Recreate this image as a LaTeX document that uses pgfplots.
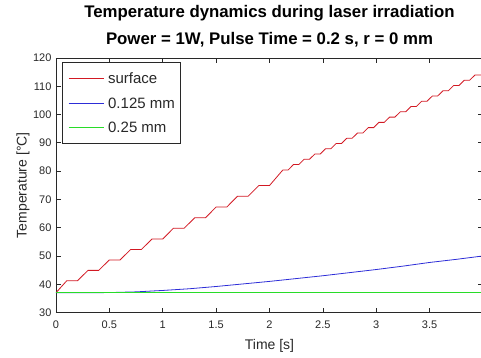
\documentclass[border=0pt]{standalone}
\usepackage{pgfplots}
\pgfplotsset{compat=1.18}
\usepackage{fontspec}
\setmainfont{Liberation Sans}
\definecolor{mred}{RGB}{210,25,35}
\definecolor{mblue}{RGB}{45,45,215}
\definecolor{mgreen}{RGB}{40,220,40}
\definecolor{axc}{RGB}{40,40,40}
\begin{document}
\begin{tikzpicture}
\useasboundingbox (-56pt,-44.5pt) rectangle (425pt,312.5pt);
\begin{axis}[
  scale only axis,
  width=427pt, height=254.5pt,
  xmin=0, xmax=4, ymin=30, ymax=120,
  xtick={0,0.5,1,1.5,2,2.5,3,3.5,4},
  xticklabels={0,0.5,1,1.5,2,2.5,3,3.5,{}},
  ytick={30,40,50,60,70,80,90,100,110,120},
  tick align=inside,
  major tick length=5pt,
  axis line style={axc, line width=0.7pt},
  every tick/.style={axc, line width=0.7pt},
  /pgf/number format/assume math mode=true,
  ticklabel style={font=\fontsize{11}{11}\selectfont, text=axc},
  xticklabel style={yshift=-5pt},
  yticklabel style={xshift=-1pt},
  xlabel={Time [s]},
  ylabel={Temperature [°C]},
  label style={font=\fontsize{14}{14}\selectfont, text=axc},
  xlabel style={at={(axis description cs:0.5,-0.1473)}, anchor=base},
  ylabel style={at={(axis description cs:-0.0686,0.5)}, anchor=base},
  title={Temperature dynamics during laser irradiation\\Power = 1W, Pulse Time = 0.2 s, r = 0 mm},
  title style={font=\bfseries\fontsize{16.8}{26.7}\selectfont, align=center, anchor=south, inner sep=0pt, at={(axis description cs:0.5,1)}, yshift=5pt},
  legend style={at={(axis description cs:0,1)}, anchor=north west, xshift=6pt, yshift=-4pt,
    font=\fontsize{15}{15}\selectfont, draw=axc, line width=0.7pt,
    inner xsep=6pt, inner ysep=10.8pt, row sep=13.8pt, column sep=4pt,
    nodes={inner sep=0pt, text height=10.7pt, text depth=0pt, text=axc},
    cells={anchor=west}},
  legend image code/.code={\draw[#1] (0pt,0pt) -- (35pt,0pt);},
]
\addplot[mred, line width=0.8pt] coordinates {
(0,37) (0.1,41.2) (0.2,41.2) (0.3,44.9) (0.4,44.9) (0.5,48.6) (0.6,48.6)
(0.7,52.3) (0.8,52.3) (0.9,56.0) (1.0,56.0) (1.1,59.8) (1.2,59.8)
(1.3,63.5) (1.4,63.5) (1.5,67.3) (1.6,67.3) (1.7,71.1) (1.8,71.1)
(1.9,74.9) (2.0,74.9)
(2.125,80.4) (2.175,80.4) (2.225,82.35) (2.275,82.35) (2.325,84.2) (2.375,84.2)
(2.425,86.06) (2.475,86.06) (2.525,87.93) (2.575,87.93) (2.625,89.79) (2.675,89.79)
(2.725,91.65) (2.775,91.65) (2.825,93.51) (2.875,93.51) (2.925,95.38) (2.975,95.38)
(3.025,97.24) (3.075,97.24) (3.125,99.1) (3.175,99.1) (3.225,100.96) (3.275,100.96)
(3.325,102.83) (3.375,102.83) (3.425,104.69) (3.475,104.69) (3.525,106.55) (3.575,106.55)
(3.625,108.41) (3.675,108.41) (3.725,110.28) (3.775,110.28) (3.825,112.14) (3.875,112.14)
(3.925,114.0) (4.0,114.0)
};
\addlegendentry{surface}
\addplot[mblue, line width=0.8pt] coordinates {
(0,37) (0.25,37) (0.5,37.05) (0.75,37.3) (1.0,37.8) (1.25,38.4) (1.5,39.2)
(1.75,40.1) (2.0,41.0) (2.25,42.0) (2.5,43.0) (2.75,44.1) (3.0,45.2)
(3.25,46.4) (3.5,47.7) (3.75,48.8) (4.0,50.0)
};
\addlegendentry{0.125 mm}
\addplot[mgreen, line width=0.8pt] coordinates {
(0,37) (0.5,37) (1,37) (1.5,37) (2,37) (2.5,37) (3,37) (3.5,37) (4,37)
};
\addlegendentry{0.25 mm}
\end{axis}
\end{tikzpicture}
\end{document}
